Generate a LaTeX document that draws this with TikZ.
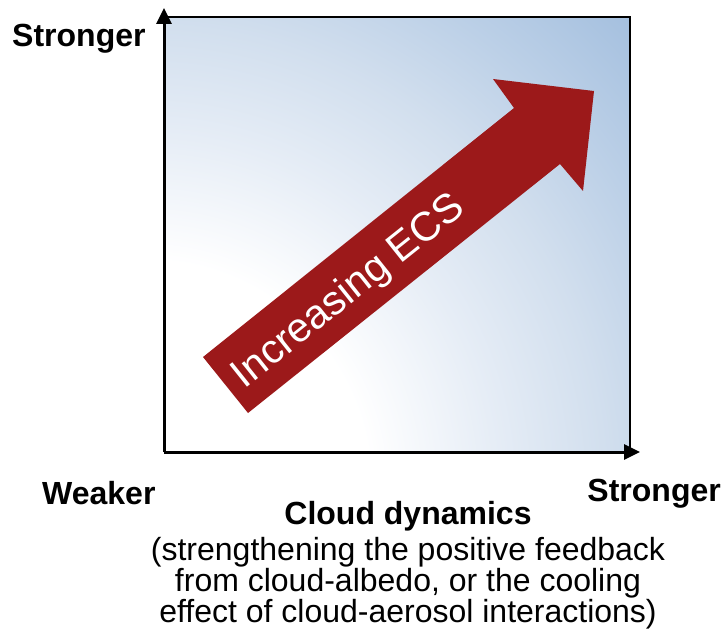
\documentclass[tikz,border=0pt]{standalone}
\usepackage{fontspec}
\setmainfont{Liberation Sans}
\usetikzlibrary{arrows.meta}
\definecolor{ecsred}{HTML}{9C191A}
\definecolor{bgA}{HTML}{E6EDF6}
\definecolor{bgB}{HTML}{D2DFEE}
\definecolor{bgC}{HTML}{BCD0E7}
\definecolor{bgD}{HTML}{A5C0DF}
\pgfdeclareradialshading{ecsshade}{\pgfpointorigin}{color(0bp)=(white); color(8bp)=(white); color(12.5bp)=(bgA); color(16.4bp)=(bgB); color(20bp)=(bgC); color(24bp)=(bgD); color(50bp)=(bgD)}
\tikzset{
  lbl/.style={font=\bfseries\fontsize{32}{34}\selectfont, inner sep=0pt},
  desc/.style={font=\fontsize{32}{31}\selectfont, inner sep=0pt, align=center},
  axis/.style={line width=3pt, -{Triangle[width=15pt,length=16pt]}},
}
\begin{document}
\begin{tikzpicture}[x=1pt,y=-1pt]
\useasboundingbox (0,0) rectangle (725,631);
\clip (0,0) rectangle (725,631);
% clipped label at the top
\node[desc, anchor=base west] (ylab) at (4,-6.3) {(weakening the cooling)};
% shaded field
\begin{scope}
  \clip (164,17) rectangle (630,452);
  \shade[shading=ecsshade] (145,485) circle[radius=700];
\end{scope}
\draw[line width=2pt] (164,452) -- (164,17) -- (630,17) -- (630,452);
% axes
\coordinate (o) at (164,452);
\coordinate (ytip) at (164,8);
\coordinate (xtip) at (640,452);
\draw[axis] (o) -- (ytip);
\draw[axis] (o) -- (xtip);
% big red arrow
\fill[ecsred] (203,357) -- (514,108) -- (493,79) -- (594,91) -- (583,191) -- (560,164) -- (248,413) -- cycle;
\node[rotate=38.6, text=white, font=\fontsize{41}{48}\selectfont, inner sep=0pt] (ecs) at (349,292) {Increasing ECS};
% labels
\node[lbl, anchor=west] (ystrong) at (12,39) {Stronger};
\node[lbl, anchor=west] (xweak) at (42,493) {Weaker};
\node[lbl, anchor=east] (xstrong) at (721,494) {Stronger};
\node[lbl] (xtitle) at (408,516) {Cloud dynamics};
\node[desc, anchor=north] (xdesc) at (408,537) {(strengthening the positive feedback\\from cloud-albedo, or the cooling\\effect of cloud-aerosol interactions)};
\end{tikzpicture}
\end{document}
